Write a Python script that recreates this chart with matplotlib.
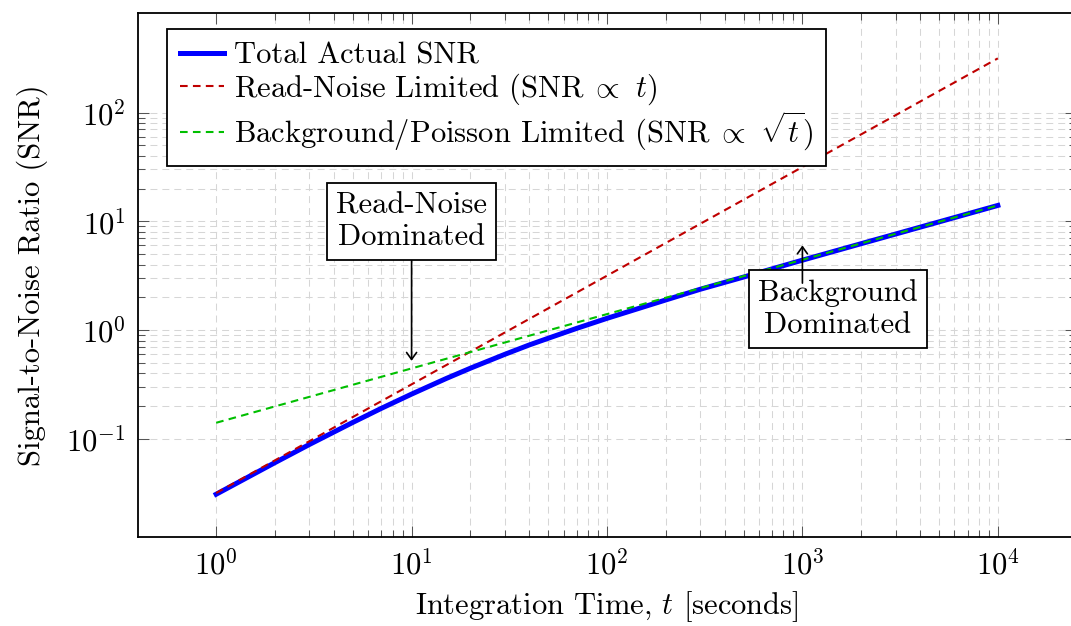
import matplotlib
matplotlib.use('agg')
import matplotlib.pyplot as plt
from matplotlib.ticker import FixedLocator, FixedFormatter, NullFormatter

plt.rcParams['font.family'] = 'cmr10'
plt.rcParams['mathtext.fontset'] = 'cm'
plt.rcParams['axes.unicode_minus'] = False
plt.rcParams['lines.scale_dashes'] = False

# values (integration time in seconds, SNR)
t_total = [1, 2, 3, 5, 7, 10, 15, 20, 30, 40, 50, 70, 100, 200, 300, 500,
           1000, 2000, 5000, 10000]
snr_total = [0.0308, 0.0602, 0.0884, 0.141, 0.190, 0.257, 0.357, 0.445, 0.597,
             0.728, 0.839, 1.035, 1.28, 1.89, 2.37, 3.07, 4.39, 6.23, 9.88, 14.0]
t_read = [1, 10, 100, 1000, 10000]
snr_read = [0.0316, 0.316, 3.16, 31.6, 316]
t_bg = [1, 10, 100, 1000, 10000]
snr_bg = [0.14, 0.443, 1.40, 4.43, 14.0]

x_major = [1, 10, 100, 1000, 10000]
x_labels = [r'$10^{0}$', r'$10^{1}$', r'$10^{2}$', r'$10^{3}$', r'$10^{4}$']
y_major = [0.1, 1, 10, 100]
y_labels = [r'$10^{-1}$', r'$10^{0}$', r'$10^{1}$', r'$10^{2}$']

FS = 22
RED = '#bf0000'
GREEN = '#00bf00'

fig = plt.figure(figsize=(10.71, 6.26), dpi=100)
ax = fig.add_axes([138 / 1071, 1 - 537 / 626, 938 / 1071, 524 / 626])
ax.set_xscale('log')
ax.set_yscale('log')
ax.set_xlim(10 ** -0.4, 10 ** 4.4)
ax.set_ylim(10 ** -1.905, 10 ** 2.917)

# minor ticks only between the major ones (pgfplots style)
x_minor = [m * 10 ** e for e in range(0, 4) for m in range(2, 10)]
y_minor = [m * 10 ** e for e in range(-1, 2) for m in range(2, 10)]
ax.xaxis.set_major_locator(FixedLocator(x_major))
ax.xaxis.set_major_formatter(FixedFormatter(x_labels))
ax.xaxis.set_minor_locator(FixedLocator(x_minor))
ax.xaxis.set_minor_formatter(NullFormatter())
ax.yaxis.set_major_locator(FixedLocator(y_major))
ax.yaxis.set_major_formatter(FixedFormatter(y_labels))
ax.yaxis.set_minor_locator(FixedLocator(y_minor))
ax.yaxis.set_minor_formatter(NullFormatter())

ax.tick_params(which='both', direction='in', top=True, right=True,
               color='#555555', width=0.75)
ax.tick_params(which='major', length=7.9, labelsize=FS, pad=9)
ax.tick_params(which='minor', length=5.3)
for sp in ax.spines.values():
    sp.set_linewidth(1.3)

ax.grid(which='both', color='#d6d6d6', linewidth=0.75, linestyle=(0, (5, 3.6)))
ax.set_axisbelow(True)

ax.plot(t_total, snr_total, color='blue', lw=3.6, label='Total Actual SNR', zorder=3)
ax.plot(t_read, snr_read, color=RED, lw=1.5, linestyle=(0, (5.5, 3.8)),
        label=r'Read-Noise Limited (SNR$\;\propto$ $t$)', zorder=4)
ax.plot(t_bg, snr_bg, color=GREEN, lw=1.5, linestyle=(0, (5.5, 3.8)),
        label=r'Background/Poisson Limited (SNR$\;\propto$ $\sqrt{t}$)', zorder=4)

box = dict(boxstyle='square,pad=0.3', fc='white', ec='black', lw=1.3)
arrow = dict(arrowstyle='->,head_length=0.25,head_width=0.18', mutation_scale=20,
             color='black', lw=1.2, shrinkA=0, shrinkB=0)
ax.annotate('Read-Noise\nDominated', xy=(10, 0.52), xytext=(10, 10),
            ha='center', va='center', fontsize=FS, bbox=box,
            arrowprops=arrow, zorder=6)
ax.text(1520, 1.56, 'Background\nDominated', ha='center', va='center',
        fontsize=FS, bbox=box, zorder=6)
ax.annotate('', xy=(1000, 6.0), xytext=(1000, 2.7), arrowprops=arrow, zorder=7)

leg = ax.legend(loc='upper left', bbox_to_anchor=(29 / 938, 1 - 16 / 524),
                borderaxespad=0, fontsize=FS, fancybox=False, framealpha=1,
                edgecolor='black', handlelength=1.45, handletextpad=0.33,
                labelspacing=0.08, borderpad=0.42)
leg.get_frame().set_linewidth(1.3)

ax.set_xlabel(r'Integration Time, $t$ [seconds]', fontsize=FS, labelpad=6)
ax.set_ylabel('Signal-to-Noise Ratio (SNR)', fontsize=FS, labelpad=13)

fig.savefig('out.png', dpi=100)
